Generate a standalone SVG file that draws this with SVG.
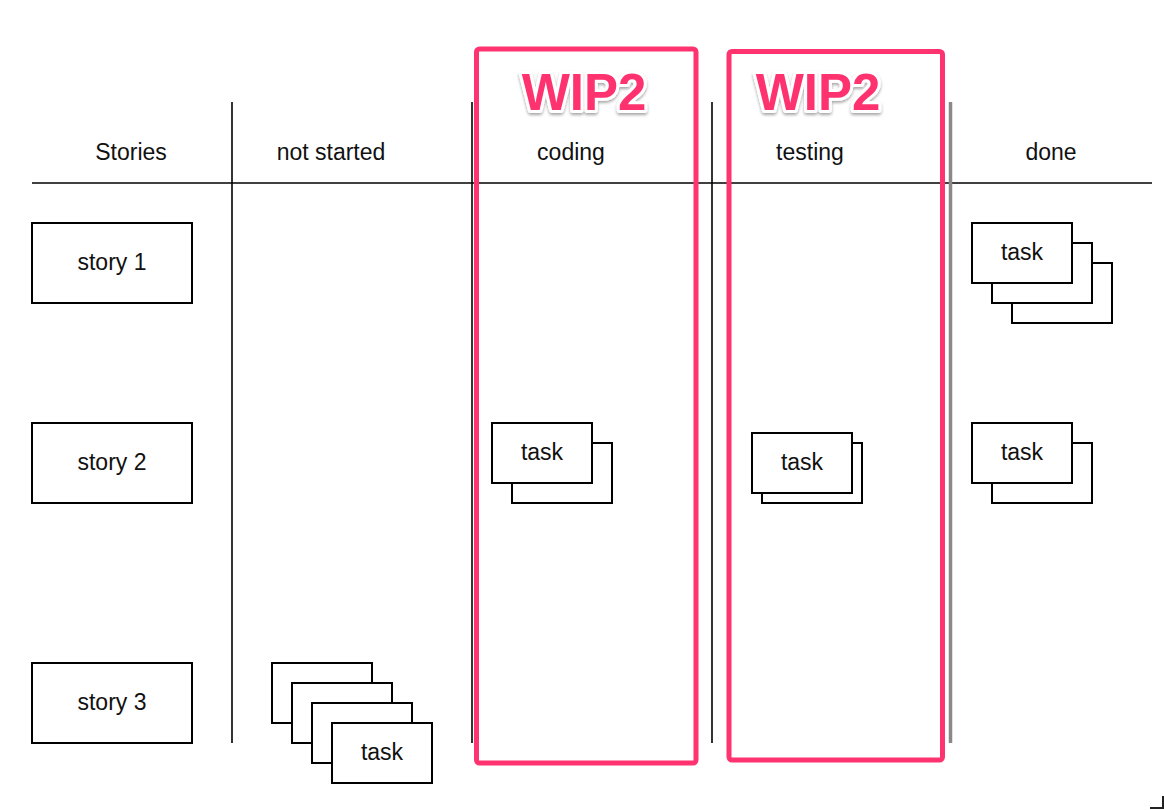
<svg xmlns="http://www.w3.org/2000/svg" width="1164" height="810" viewBox="0 0 1164 810">
  <defs>
    <style>
      .lbl { font-family: "Liberation Sans", Arial, Helvetica, sans-serif; font-size: 23px; fill: #111; text-anchor: middle; }
      .box { fill: #fff; stroke: #000; stroke-width: 2; }
      .grid { stroke: #000; stroke-width: 1.6; fill: none; }
      .wip { fill: none; stroke: #ff3370; stroke-width: 5; }
      .wiptxt { font-family: "Liberation Sans", Arial, Helvetica, sans-serif; font-size: 51px; font-weight: bold; fill: #ff3370; stroke: #fff; stroke-width: 6; stroke-linejoin: round; paint-order: stroke; text-anchor: middle; filter: url(#sh); }
    </style>
    <filter id="sh" x="-10%" y="-20%" width="120%" height="150%">
      <feDropShadow dx="0" dy="2" stdDeviation="1.5" flood-color="#000" flood-opacity="0.35"/>
    </filter>
  </defs>
  <rect width="1164" height="810" fill="#fff"/>

  <g id="grid">
    <line class="grid" x1="32" y1="183" x2="1152" y2="183"/>
    <line class="grid" x1="232" y1="102" x2="232" y2="743"/>
    <line class="grid" x1="472" y1="102" x2="472" y2="743"/>
    <line class="grid" x1="712" y1="102" x2="712" y2="743"/>
    <line x1="950.5" y1="102" x2="950.5" y2="743" stroke="#888" stroke-width="3.5"/>
  </g>

  <g id="headers">
    <text class="lbl" x="131" y="160">Stories</text>
    <text class="lbl" x="331" y="160">not started</text>
    <text class="lbl" x="571" y="160">coding</text>
    <text class="lbl" x="810" y="160">testing</text>
    <text class="lbl" x="1051" y="160">done</text>
  </g>

  <g id="story1">
    <rect class="box" x="32" y="223" width="160" height="80"/>
    <text class="lbl" x="112" y="270">story 1</text>
  </g>
  <g id="story2">
    <rect class="box" x="32" y="423" width="160" height="80"/>
    <text class="lbl" x="112" y="470">story 2</text>
  </g>
  <g id="story3">
    <rect class="box" x="32" y="663" width="160" height="80"/>
    <text class="lbl" x="112" y="710">story 3</text>
  </g>

  <g id="tasks-notstarted">
    <rect class="box" x="272" y="663" width="100" height="60"/>
    <rect class="box" x="292" y="683" width="100" height="60"/>
    <rect class="box" x="312" y="703" width="100" height="60"/>
    <rect class="box" x="332" y="723" width="100" height="60"/>
    <text class="lbl" x="382" y="760">task</text>
  </g>

  <g id="tasks-coding">
    <rect class="box" x="512" y="443" width="100" height="60"/>
    <rect class="box" x="492" y="423" width="100" height="60"/>
    <text class="lbl" x="542" y="460">task</text>
  </g>

  <g id="tasks-testing">
    <rect class="box" x="762" y="443" width="100" height="60"/>
    <rect class="box" x="752" y="433" width="100" height="60"/>
    <text class="lbl" x="802" y="470">task</text>
  </g>

  <g id="tasks-done-1">
    <rect class="box" x="1012" y="263" width="100" height="60"/>
    <rect class="box" x="992" y="243" width="100" height="60"/>
    <rect class="box" x="972" y="223" width="100" height="60"/>
    <text class="lbl" x="1022" y="260">task</text>
  </g>

  <g id="tasks-done-2">
    <rect class="box" x="992" y="443" width="100" height="60"/>
    <rect class="box" x="972" y="423" width="100" height="60"/>
    <text class="lbl" x="1022" y="460">task</text>
  </g>

  <g id="wip-coding">
    <rect class="wip" x="476.5" y="49" width="219.5" height="714" rx="3"/>
    <text class="wiptxt" x="584" y="110">WIP2</text>
  </g>

  <g id="wip-testing">
    <rect class="wip" x="729" y="51.5" width="213.5" height="708.5" rx="3"/>
    <text class="wiptxt" x="818" y="110">WIP2</text>
  </g>

  <path d="M1163 796 V808 H1150" fill="none" stroke="#222" stroke-width="2"/>
</svg>
